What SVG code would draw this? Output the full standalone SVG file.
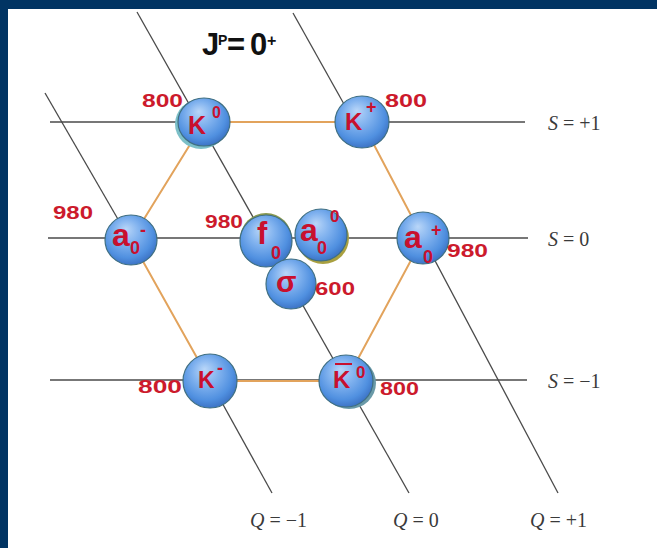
<svg xmlns="http://www.w3.org/2000/svg" width="657" height="548" viewBox="0 0 657 548">
<defs>
<radialGradient id="ball" cx="0.45" cy="0.4" r="0.6" fx="0.4" fy="0.28">
<stop offset="0" stop-color="#b9d6f8"/>
<stop offset="0.4" stop-color="#82b3ef"/>
<stop offset="0.8" stop-color="#5090e0"/>
<stop offset="1" stop-color="#3d74c6"/>
</radialGradient>
<style>
.ln{stroke:#4a4a4a;stroke-width:1.3;fill:none}
.hex{stroke:#e2a35c;stroke-width:2;fill:none}
.b{fill:url(#ball);stroke:#3f6f82;stroke-width:1.2}
.num{font-family:"Liberation Sans",Arial,sans-serif;font-weight:bold;font-size:18px;fill:#cc1a2c}
.p{font-family:"Liberation Sans",Arial,sans-serif;font-weight:bold;fill:#c8102e}
.t{font-family:"Liberation Sans",Arial,sans-serif;font-weight:bold;fill:#111}
.lab{font-family:"Liberation Serif","Times New Roman",serif;font-size:20px;fill:#3a3a3a}
.it{font-style:italic}
</style>
</defs>
<rect x="0" y="0" width="657" height="548" fill="#013463"/>
<rect x="8" y="9" width="649" height="539" fill="#ffffff"/>

<g id="connectors">
<line class="ln" x1="50" y1="122" x2="525" y2="122"/>
<line class="ln" x1="48" y1="238" x2="528" y2="238"/>
<line class="ln" x1="50" y1="380" x2="527" y2="380"/>
<line class="ln" x1="137" y1="12" x2="409" y2="493"/>
<line class="ln" x1="293" y1="13" x2="354" y2="122"/>
<line class="ln" x1="423" y1="238" x2="558" y2="493"/>
<line class="ln" x1="45" y1="93" x2="130" y2="240"/>
<line class="ln" x1="210" y1="381" x2="272" y2="493"/>
<polygon class="hex" points="204,122 362,122 423,238 346,381 210,381 131,240"/>
</g>

<g id="title">
<text class="t" font-size="31" x="202" y="55">J<tspan x="218" y="45" font-size="14">P</tspan><tspan x="227" y="55">=</tspan><tspan x="250" y="55">0</tspan><tspan x="267" y="46" font-size="16">+</tspan></text>
</g>

<g id="K0">
<ellipse cx="201" cy="124" rx="26" ry="25" fill="#7cc0c8"/>
<ellipse class="b" cx="204" cy="122" rx="26" ry="24"/>
<text class="p" font-size="25" x="188" y="134">K</text>
<text class="p" font-size="16" x="212" y="118">0</text>
<text class="num" x="142" y="107" textLength="41" lengthAdjust="spacingAndGlyphs">800</text>
</g>

<g id="Kplus">
<ellipse class="b" cx="362" cy="122" rx="27" ry="26"/>
<text class="p" font-size="24" x="345" y="130">K</text>
<text class="p" font-size="18" x="366" y="113">+</text>
<text class="num" x="385" y="107" textLength="42" lengthAdjust="spacingAndGlyphs">800</text>
</g>

<g id="a0minus">
<ellipse class="b" cx="131" cy="240" rx="26" ry="25"/>
<text class="p" font-size="32" x="112" y="246">a</text>
<text class="p" font-size="18" x="130" y="254">0</text>
<text class="p" font-size="18" x="140" y="236">-</text>
<text class="num" x="53" y="219" textLength="40" lengthAdjust="spacingAndGlyphs">980</text>
</g>

<g id="f0">
<ellipse cx="266" cy="239" rx="26" ry="26" fill="#8a9a50"/>
<ellipse class="b" cx="266" cy="241" rx="26" ry="26"/>
<text class="p" font-size="31" x="257" y="244">f</text>
<text class="p" font-size="18" x="271" y="259">0</text>
<text class="num" x="205" y="228" textLength="38" lengthAdjust="spacingAndGlyphs">980</text>
</g>

<g id="a00">
<ellipse cx="323" cy="238" rx="26" ry="26" fill="#a9a040"/>
<ellipse class="b" cx="321" cy="235" rx="26" ry="26"/>
<text class="p" font-size="32" x="300" y="241">a</text>
<text class="p" font-size="18" x="317" y="254">0</text>
<text class="p" font-size="17" x="330" y="222">0</text>
</g>

<g id="sigma">
<ellipse class="b" cx="291" cy="284" rx="25" ry="25"/>
<text class="p" font-size="30" x="276" y="292">σ</text>
<text class="num" x="315" y="295" textLength="40" lengthAdjust="spacingAndGlyphs">600</text>
</g>

<g id="a0plus">
<ellipse class="b" cx="423" cy="238" rx="26" ry="26"/>
<text class="p" font-size="32" x="404" y="248">a</text>
<text class="p" font-size="18" x="423" y="263">0</text>
<text class="p" font-size="18" x="431" y="236">+</text>
<text class="num" x="447" y="257" textLength="41" lengthAdjust="spacingAndGlyphs">980</text>
</g>

<g id="Kminus">
<ellipse class="b" cx="210" cy="381" rx="27" ry="27"/>
<text class="p" font-size="23" x="198" y="388">K</text>
<text class="p" font-size="18" x="217" y="374">-</text>
<text class="num" x="138" y="393" textLength="44" lengthAdjust="spacingAndGlyphs">800</text>
</g>

<g id="K0bar">
<ellipse cx="349" cy="383" rx="27" ry="26" fill="#6a9aa8"/>
<ellipse class="b" cx="346" cy="381" rx="27" ry="26"/>
<line x1="335" y1="364" x2="352" y2="364" stroke="#c8102e" stroke-width="2"/>
<text class="p" font-size="24" x="333" y="388">K</text>
<text class="p" font-size="17" x="356" y="378">0</text>
<text class="num" x="380" y="395" textLength="39" lengthAdjust="spacingAndGlyphs">800</text>
</g>

<g id="axis-labels">
<text class="lab" x="548" y="130"><tspan class="it">S</tspan> = +1</text>
<text class="lab" x="548" y="246"><tspan class="it">S</tspan> = 0</text>
<text class="lab" x="548" y="388"><tspan class="it">S</tspan> = −1</text>
<text class="lab" x="250" y="527"><tspan class="it">Q</tspan> = −1</text>
<text class="lab" x="393" y="527"><tspan class="it">Q</tspan> = 0</text>
<text class="lab" x="530" y="527"><tspan class="it">Q</tspan> = +1</text>
</g>
</svg>
